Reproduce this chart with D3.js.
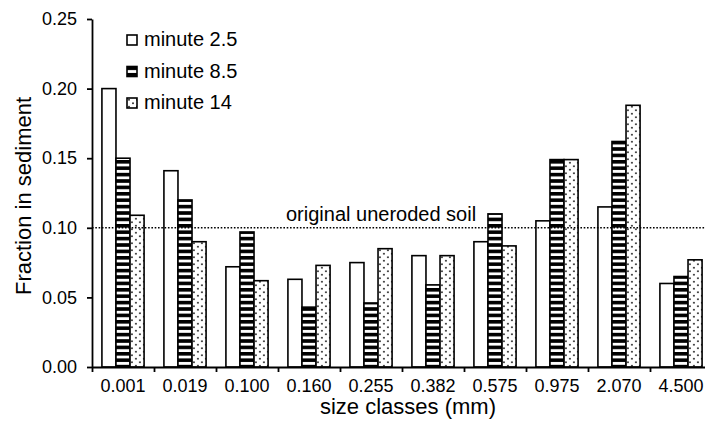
<!DOCTYPE html>
<html>
<head>
<meta charset="utf-8">
<script src="https://cdn.jsdelivr.net/npm/d3@7"></script>
<style>
body{margin:0;background:#fff}
svg{display:block;font-family:"Liberation Sans",Arial,sans-serif}
</style>
</head>
<body>
<svg id="chart"></svg>
<script>
// size classes and fractions
let categories=["0.001","0.019","0.100","0.160","0.255","0.382","0.575","0.975","2.070","4.500"]
let seriesNames=["minute 2.5","minute 8.5","minute 14"]
let minute2_5=[0.200,0.141,0.072,0.063,0.075,0.080,0.090,0.105,0.115,0.060]
let minute8_5=[0.150,0.120,0.097,0.043,0.046,0.059,0.110,0.149,0.162,0.065]
let minute14=[0.109,0.090,0.062,0.073,0.085,0.080,0.087,0.149,0.188,0.077]
let yTicks=[0,0.05,0.10,0.15,0.20,0.25]
let refValue=0.10
let refLabel="original uneroded soil"

let width=705
let height=430
let plotLeft=92, plotRight=712, plotTop=19, plotBottom=367

let svg=d3.select('#chart').attr('width',width).attr('height',height)

// patterns
let defs=svg.append('defs')
let stripes=defs.append('pattern').attr('id','stripes')
    .attr('patternUnits','userSpaceOnUse').attr('width',10).attr('height',6.4)
stripes.append('rect').attr('width',10).attr('height',6.4).attr('fill','#fff')
stripes.append('rect').attr('y',0).attr('width',10).attr('height',3.6).attr('fill','#000')

let dots=defs.append('pattern').attr('id','dots')
    .attr('patternUnits','userSpaceOnUse').attr('width',8).attr('height',7)
dots.append('rect').attr('width',8).attr('height',7).attr('fill','#fff')
dots.append('circle').attr('cx',2).attr('cy',1.75).attr('r',1).attr('fill','#333')
dots.append('circle').attr('cx',6).attr('cy',5.25).attr('r',1).attr('fill','#333')

let fills=['#fff','url(#stripes)','url(#dots)']
let seriesValues=[minute2_5,minute8_5,minute14]

let rows=categories.map((c,i)=>({cat:c,vals:seriesValues.map(s=>s[i])}))

let xScale=d3.scaleBand().domain(categories).range([plotLeft,plotRight])
    .paddingInner(0.32).paddingOuter(0.16)
let xSub=d3.scaleBand().domain(d3.range(seriesNames.length)).range([0,xScale.bandwidth()])
let xEdge=d3.scaleLinear().domain([0,categories.length]).range([plotLeft,plotRight])
let yScale=d3.scaleLinear().domain([0,0.25]).range([plotBottom,plotTop])

// bars
let groups=svg.selectAll('g.grp').data(rows).enter().append('g')
    .attr('class','grp')
    .attr('transform',d=>'translate('+xScale(d.cat)+',0)')
groups.selectAll('rect').data(d=>d.vals).enter().append('rect')
    .attr('x',(d,i)=>xSub(i))
    .attr('y',d=>yScale(d))
    .attr('width',xSub.bandwidth())
    .attr('height',d=>plotBottom-yScale(d))
    .attr('fill',(d,i)=>fills[i])
    .attr('stroke','#000')
    .attr('stroke-width',1.6)

// reference line
svg.append('line')
    .attr('x1',plotLeft).attr('x2',width)
    .attr('y1',yScale(refValue)).attr('y2',yScale(refValue))
    .attr('stroke','#000').attr('stroke-width',1.6)
    .attr('stroke-dasharray','1.6,1.7')
svg.append('text')
    .attr('x',286).attr('y',yScale(refValue)-7)
    .attr('font-size',20)
    .text(refLabel)

// y axis
let yAxis=d3.axisLeft(yScale).tickValues(yTicks)
    .tickFormat(d3.format('.2f')).tickSize(5).tickPadding(10).tickSizeOuter(0)
let gy=svg.append('g').attr('transform','translate('+plotLeft+',0)').call(yAxis)
gy.selectAll('text').attr('font-size',18).attr('fill','#000').attr('font-family','Liberation Sans, Arial, sans-serif')
gy.selectAll('line,path').attr('stroke','#000').attr('stroke-width',1.8)

// x axis: ticks at category edges, labels at centres
let xTickAxis=d3.axisBottom(xEdge).tickValues(d3.range(0,categories.length+1))
    .tickFormat('').tickSize(5).tickSizeOuter(0)
let gx=svg.append('g').attr('transform','translate(0,'+plotBottom+')').call(xTickAxis)
gx.selectAll('line,path').attr('stroke','#000').attr('stroke-width',1.8)

let xLabelAxis=d3.axisBottom(xScale).tickSize(0).tickPadding(12)
let gxl=svg.append('g').attr('transform','translate(0,'+plotBottom+')').call(xLabelAxis)
gxl.select('.domain').remove()
gxl.selectAll('text').attr('font-size',18).attr('fill','#000').attr('font-family','Liberation Sans, Arial, sans-serif')

// axis titles
svg.append('text')
    .attr('x',408).attr('y',414)
    .attr('text-anchor','middle').attr('font-size',22)
    .text('size classes (mm)')
svg.append('text')
    .attr('transform','translate(31,196) rotate(-90)')
    .attr('text-anchor','middle').attr('font-size',22)
    .text('Fraction in sediment')

// legend
let legend=svg.append('g').attr('transform','translate(127,35)')
let items=legend.selectAll('g').data(seriesNames).enter().append('g')
    .attr('transform',(d,i)=>'translate(0,'+(i*31.5)+')')
items.append('rect')
    .attr('width',10).attr('height',10)
    .attr('fill',(d,i)=>fills[i])
    .attr('stroke','#000').attr('stroke-width',1.6)
items.append('text')
    .attr('x',17).attr('y',11)
    .attr('font-size',20)
    .text(d=>d)
</script>
</body>
</html>
